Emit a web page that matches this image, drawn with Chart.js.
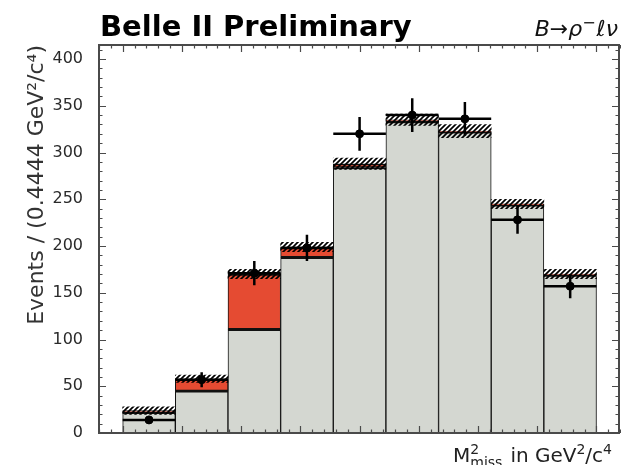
<!DOCTYPE html>
<html>
<head>
<meta charset="utf-8">
<script src="https://cdn.jsdelivr.net/npm/chart.js@4.4.1/dist/chart.umd.min.js"></script>
<style>
  html, body { margin: 0; padding: 0; background: #fff; }
</style>
</head>
<body>
<canvas id="chart" width="621" height="465"></canvas>
<script>
// bins of M2miss, width 0.4444 GeV2/c4 from -2 to 2
const binCenters = [-1.7778, -1.3333, -0.8889, -0.4444, 0, 0.4444, 0.8889, 1.3333, 1.7778];
const binHalf = 0.2222;
// stacked template yields
const otherBkg = [22, 45, 111, 188, 284, 333, 322, 244, 169];
const signal = [2, 13, 59, 11, 4, 2, 1, 1, 1];
// total template uncertainty (hatched band, +-)
const mcUnc = [4, 4, 5, 5, 6, 6, 7, 5, 5];
// data points
const dataVals = [14, 57, 171, 198, 320, 340, 336, 228, 157];
const dataErr = [4, 8, 13, 14, 18, 18, 18, 15, 13];
const yTicks = [0, 50, 100, 150, 200, 250, 300, 350, 400];

const totals = otherBkg.map((v, i) => v + signal[i]);

function makeHatch() {
  const c = document.createElement('canvas');
  c.width = 5; c.height = 5;
  const g = c.getContext('2d');
  g.strokeStyle = '#000';
  g.lineWidth = 1.7;
  g.beginPath();
  g.moveTo(-1, 6); g.lineTo(6, -1);
  g.moveTo(-1, 1); g.lineTo(1, -1);
  g.moveTo(4, 6); g.lineTo(6, 4);
  g.stroke();
  return g.createPattern(c, 'repeat');
}

Chart.defaults.font.family = "'DejaVu Sans', sans-serif";

// error bars on the data points
const errorBars = {
  id: 'errorBars',
  afterDatasetsDraw(chart) {
    const { ctx, scales: { x, y } } = chart;
    ctx.save();
    ctx.strokeStyle = '#000';
    ctx.lineWidth = 2.5;
    dataVals.forEach((v, i) => {
      const cx = x.getPixelForValue(binCenters[i]);
      const cy = y.getPixelForValue(v);
      ctx.beginPath();
      ctx.moveTo(x.getPixelForValue(binCenters[i] - binHalf), cy);
      ctx.lineTo(x.getPixelForValue(binCenters[i] + binHalf), cy);
      ctx.moveTo(cx, y.getPixelForValue(v - dataErr[i]));
      ctx.lineTo(cx, y.getPixelForValue(v + dataErr[i]));
      ctx.stroke();
    });
    ctx.restore();
  }
};

// box frame with inward ticks on all four sides
const frame = {
  id: 'frame',
  afterDraw(chart) {
    const { ctx, chartArea: a, scales: { x, y } } = chart;
    ctx.save();
    ctx.strokeStyle = '#4a4a4a';
    ctx.lineWidth = 1.2;
    ctx.beginPath();
    for (let k = -22; k <= 22; k++) {
      const px = Math.round(x.getPixelForValue(k / 10)) + 0.5;
      const len = (k % 5 === 0) ? 7 : 3.5;
      ctx.moveTo(px, a.bottom); ctx.lineTo(px, a.bottom - len);
      ctx.moveTo(px, a.top); ctx.lineTo(px, a.top + len);
    }
    for (let v = 0; v <= 410; v += 10) {
      const py = Math.round(y.getPixelForValue(v)) + 0.5;
      const len = (v % 50 === 0) ? 7 : 3.5;
      ctx.moveTo(a.left, py); ctx.lineTo(a.left + len, py);
      ctx.moveTo(a.right, py); ctx.lineTo(a.right - len, py);
    }
    ctx.stroke();
    ctx.lineWidth = 2;
    ctx.strokeRect(a.left, a.top, a.right - a.left, a.bottom - a.top);
    ctx.restore();
  }
};

const labels = {
  id: 'labels',
  afterDraw(chart) {
    const { ctx } = chart;
    ctx.save();
    ctx.fillStyle = '#000';
    ctx.textBaseline = 'alphabetic';
    ctx.textAlign = 'left';
    ctx.font = "bold 29px 'DejaVu Sans'";
    ctx.fillText('Belle II Preliminary', 100, 36);

    // process label B -> rho- l nu, right aligned
    const big = "italic 22px 'DejaVu Sans'";
    const sup = "16px 'DejaVu Sans'";
    ctx.font = big; const w1 = ctx.measureText('B\u2192\u03c1').width;
    ctx.font = sup; const w2 = ctx.measureText('\u2212').width;
    ctx.font = big; const w3 = ctx.measureText('\u2113\u03bd').width;
    let px = 618 - (w1 + w2 + 1 + w3);
    ctx.fillStyle = '#111';
    ctx.font = big; ctx.fillText('B\u2192\u03c1', px, 36); px += w1;
    ctx.font = sup; ctx.fillText('\u2212', px, 28); px += w2 + 1;
    ctx.font = big; ctx.fillText('\u2113\u03bd', px, 36);

    // x axis title M2miss in GeV2/c4
    const f20 = "20px 'DejaVu Sans'";
    const f14 = "14px 'DejaVu Sans'";
    ctx.font = f20; const wM = ctx.measureText('M').width;
    const wIn = ctx.measureText('in GeV').width;
    const wC = ctx.measureText('/c').width;
    ctx.font = f14; const wMiss = ctx.measureText('miss').width;
    const w2s = ctx.measureText('2').width;
    const gap = 8;
    const tot = wM + wMiss + gap + wIn + w2s + wC + w2s;
    let x0 = 612 - tot;
    const base = 462;
    ctx.fillStyle = '#222';
    ctx.font = f20; ctx.fillText('M', x0, base); x0 += wM;
    ctx.font = f14; ctx.fillText('2', x0, base - 8); ctx.fillText('miss', x0, base + 5);
    x0 += wMiss + gap;
    ctx.font = f20; ctx.fillText('in GeV', x0, base); x0 += wIn;
    ctx.font = f14; ctx.fillText('2', x0, base - 8); x0 += w2s;
    ctx.font = f20; ctx.fillText('/c', x0, base); x0 += wC;
    ctx.font = f14; ctx.fillText('4', x0, base - 8);
    ctx.restore();
  }
};

const hatch = makeHatch();

new Chart(document.getElementById('chart'), {
  type: 'bar',
  data: {
    datasets: [
      {
        type: 'scatter',
        data: binCenters.map((c, i) => ({ x: c, y: dataVals[i] })),
        pointRadius: 4,
        pointBackgroundColor: '#000',
        pointBorderColor: '#000',
        order: 0
      },
      {
        data: binCenters.map((c, i) => ({ x: c, y: [totals[i] - mcUnc[i], totals[i] + mcUnc[i]] })),
        backgroundColor: hatch,
        borderWidth: 0,
        order: 1
      },
      {
        data: binCenters.map((c, i) => ({ x: c, y: [otherBkg[i], totals[i]] })),
        backgroundColor: '#e54b32',
        borderColor: '#111',
        borderWidth: { top: 2, bottom: 1.5, left: 1, right: 1 },
        borderSkipped: false,
        order: 2
      },
      {
        data: binCenters.map((c, i) => ({ x: c, y: [0, otherBkg[i]] })),
        backgroundColor: '#d4d7d1',
        borderColor: '#111',
        borderWidth: { top: 2, bottom: 0, left: 1, right: 1 },
        borderSkipped: false,
        order: 3
      }
    ]
  },
  options: {
    responsive: false,
    animation: false,
    datasets: {
      bar: { grouped: false, barPercentage: 1, categoryPercentage: 1 }
    },
    layout: { autoPadding: false, padding: { top: 45, right: 2, left: 0, bottom: 0 } },
    plugins: {
      legend: { display: false },
      tooltip: { enabled: false }
    },
    scales: {
      x: {
        type: 'linear',
        min: -2.2,
        max: 2.19,
        offset: false,
        grid: { display: false },
        border: { display: false },
        ticks: { display: false },
        afterFit(scale) { scale.height = 32; }
      },
      y: {
        min: 0,
        max: 415,
        grid: { display: false },
        border: { display: false },
        afterBuildTicks(scale) { scale.ticks = yTicks.map(v => ({ value: v })); },
        ticks: { font: { size: 16 }, color: '#2a2a2a', padding: 8 },
        title: {
          display: true,
          text: 'Events / (0.4444 GeV\u00b2/c\u2074)',
          align: 'end',
          color: '#333',
          font: { size: 22 },
          padding: { top: 24, bottom: 0 }
        },
        afterFit(scale) { scale.width = 99; }
      }
    }
  },
  plugins: [errorBars, frame, labels]
});
</script>
</body>
</html>
